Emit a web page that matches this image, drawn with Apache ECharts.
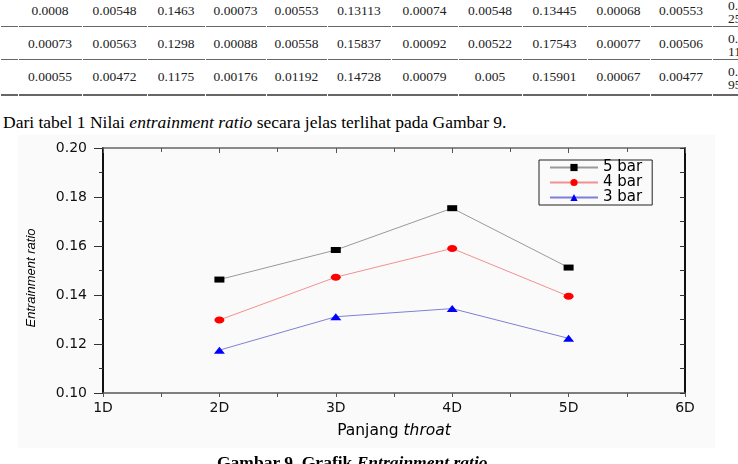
<!DOCTYPE html>
<html>
<head>
<meta charset="utf-8">
<script src="https://cdn.jsdelivr.net/npm/echarts@6/dist/echarts.min.js"></script>
<style>
  body { margin: 0; width: 738px; height: 464px; overflow: hidden; background: #fff; position: relative; font-family: "Liberation Serif", "DejaVu Serif", serif; }
  .cell { position: absolute; text-align: center; font-size: 13.5px; line-height: 16px; color: #222; white-space: nowrap; }
  .rule { position: absolute; background: #666; height: 1px; }
  #txt { position: absolute; left: 3px; top: 112px; font-size: 17.5px; line-height: 20px; color: #000; white-space: nowrap; }
  #cap { position: absolute; left: 217px; top: 452px; font-size: 17.5px; line-height: 20px; font-weight: bold; color: #000; white-space: nowrap; }
  #bg { position: absolute; left: 18px; top: 135px; width: 697px; height: 313px; background: #fafafa; }
  #chart { position: absolute; left: 0; top: 0; width: 738px; height: 464px; }
</style>
</head>
<body>
<div id="table"></div>
<div id="txt">Dari tabel 1 Nilai <i>entrainment ratio</i> secara jelas terlihat pada Gambar 9.</div>
<div id="bg"></div>
<div id="chart"></div>
<div id="cap">Gambar 9. Grafik <i>Entrainment ratio</i></div>
<script>
// tabel 1 (potongan yang terlihat)
const row1 = ['0.0008', '0.00548', '0.1463', '0.00073', '0.00553', '0.13113', '0.00074', '0.00548', '0.13445', '0.00068', '0.00553']
const row2 = ['0.00073', '0.00563', '0.1298', '0.00088', '0.00558', '0.15837', '0.00092', '0.00522', '0.17543', '0.00077', '0.00506']
const row3 = ['0.00055', '0.00472', '0.1175', '0.00176', '0.01192', '0.14728', '0.00079', '0.005', '0.15901', '0.00067', '0.00477']
const lastCol = [['0.1', '25'], ['0.1', '11'], ['0.1', '95']]

// data grafik
const xTickLabels = ['1D', '2D', '3D', '4D', '5D', '6D']
const throatLen = [2, 3, 4, 5]
const bar5 = [0.1463, 0.15837, 0.17543, 0.1512]
const bar4 = [0.1298, 0.14728, 0.15901, 0.1395]
const bar3 = [0.1175, 0.13113, 0.13445, 0.1223]
const seriesNames = ['5 bar', '4 bar', '3 bar']

// --- tabel ---
const colEdges = [18, 82, 147, 205, 266, 327, 391, 458, 522, 587, 650, 712, 760]
const rowCenters = [11, 44, 77]
const ruleY = [26, 59]
const tbl = document.getElementById('table')
const rows = [row1, row2, row3]
rows.forEach((row, r) => {
  row.forEach((v, c) => {
    const d = document.createElement('div')
    d.className = 'cell'
    d.style.left = colEdges[c] + 'px'
    d.style.width = (colEdges[c + 1] - colEdges[c]) + 'px'
    d.style.top = (rowCenters[r] - 8) + 'px'
    d.textContent = v
    tbl.appendChild(d)
  })
  const last = document.createElement('div')
  last.className = 'cell'
  last.style.left = '728px'
  last.style.textAlign = 'left'
  last.style.lineHeight = '13px'
  last.style.top = (rowCenters[r] - 12) + 'px'
  last.innerHTML = lastCol[r].join('<br>')
  tbl.appendChild(last)
})
const edges = [0].concat(colEdges)
const addRules = (y, h) => {
  for (let i = 0; i < edges.length - 1; i++) {
    const l = document.createElement('div')
    l.className = 'rule'
    l.style.left = (edges[i] + 1) + 'px'
    l.style.width = (edges[i + 1] - edges[i] - 1) + 'px'
    l.style.top = y + 'px'
    l.style.height = h + 'px'
    tbl.appendChild(l)
  }
}
ruleY.forEach(y => addRules(y, 1))
addRules(94, 2)

// --- grafik ---
const chart = echarts.init(document.getElementById('chart'))
const tickFont = { fontFamily: 'DejaVu Sans', fontSize: 14, color: '#111' }
const toPairs = ys => throatLen.map((x, i) => [x, ys[i]])

chart.setOption({
  backgroundColor: 'transparent',
  animation: false,
  grid: { left: 103, top: 148, width: 582, height: 245 },
  legend: {
    data: seriesNames,
    orient: 'vertical',
    left: 539,
    top: 160,
    itemWidth: 48,
    itemHeight: 9,
    itemGap: 0,
    padding: [0, 10, 0, 10],
    borderColor: '#222',
    borderWidth: 1,
    textStyle: { fontFamily: 'DejaVu Sans', fontSize: 15, lineHeight: 14, color: '#000' },
  },
  xAxis: [
    {
      type: 'value', position: 'bottom', min: 1, max: 6, interval: 1,
      axisLine: { show: true, lineStyle: { color: '#555', width: 1.5 } },
      axisTick: { show: true, length: 4, lineStyle: { color: '#555' } },
      minorTick: { show: true, splitNumber: 2, length: 4, lineStyle: { color: '#555' } },
      splitLine: { show: false },
      axisLabel: { margin: 8, formatter: v => xTickLabels[v - 1], ...tickFont },
      name: '{a|Panjang }{b|throat}',
      nameLocation: 'middle',
      nameGap: 30,
      nameTextStyle: {
        rich: {
          a: { fontFamily: 'DejaVu Sans', fontSize: 15.5, color: '#000' },
          b: { fontFamily: 'DejaVu Sans', fontSize: 15.5, fontStyle: 'italic', color: '#000' },
        },
      },
    },
    {
      type: 'value', position: 'top', min: 1, max: 6, interval: 1,
      axisLine: { show: true, lineStyle: { color: '#666', width: 1.5 } },
      axisTick: { show: true, inside: true, length: 5, lineStyle: { color: '#555' } },
      minorTick: { show: true, splitNumber: 2, length: 4, lineStyle: { color: '#555' } },
      splitLine: { show: false },
      axisLabel: { show: false },
    },
  ],
  yAxis: [
    {
      type: 'value', position: 'left', min: 0.1, max: 0.2, interval: 0.02,
      axisLine: { show: true, lineStyle: { color: '#111', width: 2 } },
      axisTick: { show: true, length: 9, lineStyle: { color: '#333' } },
      minorTick: { show: true, splitNumber: 2, length: 4, lineStyle: { color: '#333' } },
      splitLine: { show: false },
      axisLabel: { margin: 16, formatter: v => v.toFixed(2), ...tickFont },
    },
    {
      type: 'value', position: 'right', min: 0.1, max: 0.2, interval: 0.02,
      axisLine: { show: true, lineStyle: { color: '#111', width: 2 } },
      axisTick: { show: true, inside: true, length: 5, lineStyle: { color: '#333' } },
      minorTick: { show: true, splitNumber: 2, length: 5, lineStyle: { color: '#333' } },
      splitLine: { show: false },
      axisLabel: { show: false },
    },
  ],
  graphic: [
    {
      type: 'text',
      x: 31,
      y: 278,
      rotation: Math.PI / 2,
      style: {
        text: 'Entrainment ratio',
        font: 'italic 13px "Liberation Sans", sans-serif',
        fill: '#000',
        textAlign: 'center',
        textVerticalAlign: 'middle',
      },
    },
  ],
  series: [
    {
      name: seriesNames[0], type: 'line', data: toPairs(bar5),
      symbol: 'rect', symbolSize: [10, 6],
      itemStyle: { color: '#000' },
      lineStyle: { color: '#999', width: 1 },
    },
    {
      name: seriesNames[1], type: 'line', data: toPairs(bar4),
      symbol: 'circle', symbolSize: [10, 7],
      itemStyle: { color: '#ff0000' },
      lineStyle: { color: '#f29090', width: 1 },
    },
    {
      name: seriesNames[2], type: 'line', data: toPairs(bar3),
      symbol: 'triangle', symbolSize: [11, 7],
      itemStyle: { color: '#0000ff' },
      lineStyle: { color: '#7f7fd8', width: 1 },
    },
  ],
})
</script>
</body>
</html>
